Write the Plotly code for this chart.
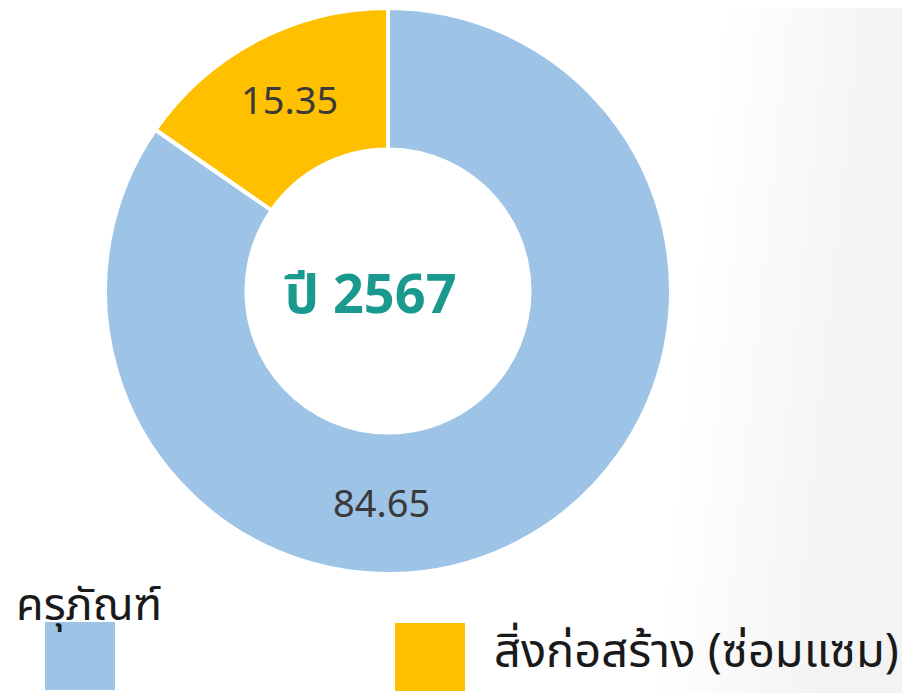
import plotly.graph_objects as go

labels = ["ครุภัณฑ์", "สิ่งก่อสร้าง (ซ่อมแซม)"]
values = [84.65, 15.35]
colors = ["#9DC3E6", "#FFC000"]
center_text = "ปี 2567"

W, H = 910, 693
OFF = 8  # the page body adds an 8px margin, so the figure is drawn smaller and shifted
FW, FH = W - OFF, H - OFF
thai_font = "Noto Sans Thai, Noto Sans, sans-serif"


def px(x):
    return (x - OFF) / FW


def py(y):
    return 1 - (y - OFF) / FH


cx, cy, r = 388, 291, 283

fig = go.Figure()
fig.add_trace(
    go.Pie(
        labels=labels,
        values=values,
        hole=0.5,
        sort=False,
        direction="clockwise",
        rotation=0,
        marker=dict(colors=colors, line=dict(color="white", width=4)),
        texttemplate=["", "%{value:.2f}"],
        textposition="inside",
        insidetextorientation="horizontal",
        textfont=dict(size=38, color="#3a3a3a", family=thai_font),
        showlegend=False,
        hoverinfo="label+value",
        domain=dict(x=[px(cx - r), px(cx + r)], y=[py(cy + r), py(cy - r)]),
    )
)

# faint grey sheen on the right side of the background
shapes = []
steps = 12
for i in range(steps):
    top = 0.80 + i * 0.016
    bot = 0.72 + i * 0.016
    shapes.append(
        dict(
            type="path", xref="paper", yref="paper",
            path=f"M {top:.3f} 1.02 L 1.02 1.02 L 1.02 -0.02 L {bot:.3f} -0.02 Z",
            fillcolor="rgba(0,0,0,0.005)", line=dict(width=0), layer="below",
        )
    )

# custom legend swatches
swatch_x = [45, 395]
swatch_y = [622, 623]
for i in range(len(labels)):
    shapes.append(
        dict(
            type="rect", xref="paper", yref="paper",
            x0=px(swatch_x[i]), x1=px(swatch_x[i] + 70),
            y0=py(swatch_y[i] + 68), y1=py(swatch_y[i]),
            fillcolor=colors[i], line=dict(width=0),
        )
    )

annotations = [
    dict(
        text=f"<b>{center_text}</b>", x=px(370), y=py(296), xref="paper", yref="paper",
        xanchor="center", yanchor="middle",
        showarrow=False, font=dict(size=54, color="#1A9A8F", family=thai_font),
    ),
    dict(
        text=f"{values[0]:.2f}", x=px(381), y=py(505), xref="paper", yref="paper",
        xanchor="center", yanchor="middle",
        showarrow=False, font=dict(size=38, color="#3a3a3a", family=thai_font),
    ),
    dict(
        text=labels[0], x=px(14), y=py(606), xref="paper", yref="paper",
        xanchor="left", yanchor="middle",
        showarrow=False, font=dict(size=45, color="#1a1a1a", family=thai_font),
    ),
    dict(
        text=labels[1], x=px(492), y=py(652), xref="paper", yref="paper",
        xanchor="left", yanchor="middle",
        showarrow=False, font=dict(size=47, color="#1a1a1a", family=thai_font),
    ),
]

fig.update_layout(
    width=FW,
    height=FH,
    margin=dict(l=0, r=0, t=0, b=0),
    paper_bgcolor="white",
    plot_bgcolor="white",
    shapes=shapes,
    annotations=annotations,
)
fig.write_html("out.html")
